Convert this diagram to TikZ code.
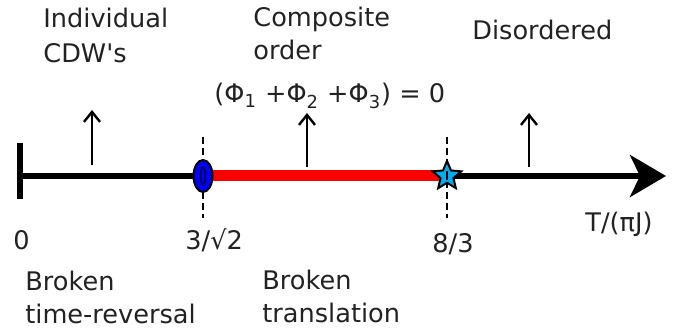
\documentclass[tikz,border=0pt]{standalone}
\usepackage{fontspec}
\setmainfont{DejaVu Sans}[Ligatures=TeXOff]
\usetikzlibrary{arrows.meta,shapes.geometric}
\definecolor{txtgray}{RGB}{34,34,34}

\begin{document}
\begin{tikzpicture}[
  x=0.5pt, y=-0.5pt,
  font=\fontsize{12.8}{16.5}\selectfont,
  lbl/.style={anchor=north west, inner sep=0pt, text=txtgray, align=left},
  tick/.style={anchor=base west, inner sep=0pt, text=txtgray},
  guide/.style={line width=1pt, dash pattern=on 3.5pt off 2pt},
  phase/.style={-{Straight Barb[length=5pt,width=8pt]}, line width=1.2pt}
]
\useasboundingbox (0,0) rectangle (696,335);

% ---------- AXIS ----------
\coordinate (o) at (20,176);
\coordinate (tip) at (666,176);
\coordinate (p1) at (203,176);
\coordinate (p2) at (447,176);

\draw[guide] (p1) ++(0,-39) -- ++(0,81);
\draw[guide] (p2) ++(0,-39) -- ++(0,81);
\draw[line width=3pt, -{Stealth[length=18pt,width=21pt,inset=5pt]}] (o) -- (tip);
\draw[line width=3pt] (o) ++(0,-33) -- ++(0,56);
\draw[red, line width=5.5pt] (p1) -- (p2);

\node[ellipse, draw, line width=1pt, fill=blue, minimum width=9.5pt, minimum height=16pt, inner sep=0pt] (tc1) at (p1) {};
\draw[line width=0.6pt] (tc1.center) ellipse (1.2pt and 4.5pt);
\node[star, star points=5, star point ratio=2.2, draw, line width=1pt, fill=cyan, minimum size=15pt, inner sep=0pt] (tc2) at (p2) {};
\draw[line width=0.8pt] (tc2.center) ++(0,-5) -- ++(0,9);

% ---------- PHASES ----------
\coordinate (a1) at (92,165);  \coordinate (b1) at (92,110);
\coordinate (a2) at (307,167); \coordinate (b2) at (307,113);
\coordinate (a3) at (529,167); \coordinate (b3) at (529,113);
\draw[phase] (a1) -- (b1);
\draw[phase] (a2) -- (b2);
\draw[phase] (a3) -- (b3);

\node[lbl] (ph1) at (43,8) {Individual\\[1pt]CDW's};
\node[lbl] (ph2) at (253,7) {Composite\\order};
\node[tick] (eq) at (214,103) {(Φ\textsubscript{1} +Φ\textsubscript{2} +Φ\textsubscript{3}) = 0};
\node[lbl] (ph3) at (472,20) {Disordered};

% ---------- TICKS ----------
\node[tick] (x0) at (13,250) {0};
\node[tick] (x1) at (185,250) {3/√2};
\node[tick] (x2) at (432,253) {8/3};
\node[tick] (xl) at (585,232) {T/(πJ)};

\node[lbl] (br1) at (25,271) {Broken\\time-reversal};
\node[lbl] (br2) at (262,270) {Broken\\translation};

\end{tikzpicture}
\end{document}
